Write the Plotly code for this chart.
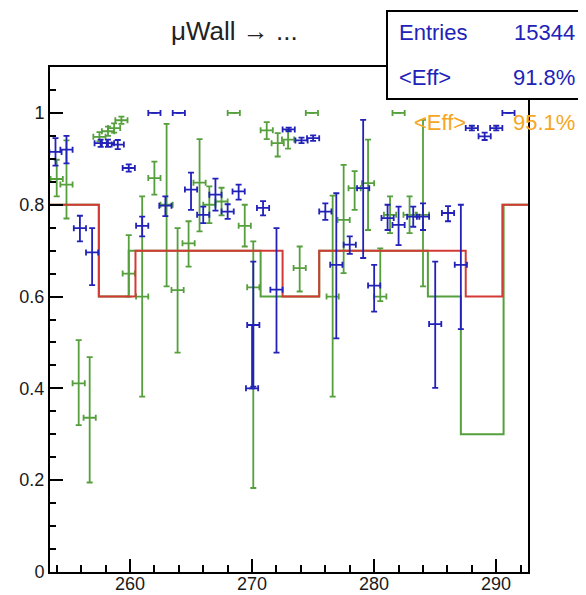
import plotly.graph_objects as go

# blue points: x, eff, err up, err down
blue_x = [253.9, 254.8, 255.9, 256.9, 257.6, 258.2, 259.0, 259.9, 261.0, 262.0,
          262.9, 264.0, 265.0, 266.0, 267.0, 268.0, 268.9, 270.1, 270.0, 270.9,
          272.0, 273.0, 274.05, 275.0, 276.0, 276.9, 278.0, 279.1, 280.0, 281.1,
          282.0, 283.2, 284.0, 285.0, 286.05, 287.1, 288.0, 289.05, 290.0, 291.0]
blue_y = [0.915, 0.92, 0.749, 0.696, 0.934, 0.934, 0.931, 0.88, 0.754, 1.0,
          0.798, 1.0, 0.833, 0.778, 0.822, 0.785, 0.829, 0.538, 0.40, 0.793,
          0.615, 0.964, 0.94, 0.945, 0.785, 0.669, 0.713, 0.836, 0.624, 0.771,
          0.756, 0.774, 0.774, 0.54, 0.782, 0.669, 0.967, 0.949, 0.967, 1.0]
blue_up = [0.03, 0.03, 0.027, 0.053, 0.008, 0.008, 0.01, 0.008, 0.02, 0.0,
           0.02, 0.0, 0.037, 0.018, 0.035, 0.016, 0.015, 0.138, 0.138, 0.015,
           0.134, 0.004, 0.006, 0.006, 0.018, 0.156, 0.018, 0.149, 0.045, 0.029,
           0.04, 0.022, 0.029, 0.136, 0.015, 0.131, 0.005, 0.008, 0.005, 0.0]
blue_dn = [0.03, 0.03, 0.029, 0.071, 0.008, 0.008, 0.01, 0.008, 0.023, 0.0,
           0.023, 0.0, 0.044, 0.018, 0.035, 0.016, 0.018, 0.134, 0.0, 0.016,
           0.137, 0.004, 0.006, 0.006, 0.018, 0.16, 0.02, 0.152, 0.057, 0.026,
           0.044, 0.022, 0.029, 0.139, 0.018, 0.14, 0.005, 0.008, 0.005, 0.0]

# green points
green_x = [254.0, 254.8, 255.8, 256.7, 257.5, 258.2, 258.7, 259.3, 259.9, 261.0,
           262.0, 263.0, 263.9, 264.8, 265.7, 266.5, 267.5, 268.5, 269.4, 270.1,
           271.2, 272.1, 272.95, 273.9, 274.9, 276.6, 277.5, 278.4, 279.5, 280.5,
           281.3, 282.0, 282.9, 284.0]
green_y = [0.856, 0.844, 0.411, 0.336, 0.948, 0.96, 0.967, 0.984, 0.65, 0.60,
           0.858, 0.80, 0.614, 0.716, 0.848, 0.80, 0.807, 1.0, 0.754, 0.62,
           0.962, 0.934, 0.942, 0.662, 1.0, 0.60, 0.767, 0.836, 0.847, 0.60,
           0.778, 1.0, 0.778, 0.778]
green_up = [0.042, 0.096, 0.094, 0.132, 0.01, 0.01, 0.01, 0.008, 0.084, 0.218,
            0.036, 0.176, 0.135, 0.048, 0.095, 0.04, 0.03, 0.0, 0.046, 0.10,
            0.018, 0.022, 0.02, 0.047, 0.0, 0.22, 0.12, 0.037, 0.095, 0.105,
            0.04, 0.0, 0.04, 0.207]
green_dn = [0.038, 0.074, 0.091, 0.141, 0.01, 0.01, 0.01, 0.008, 0.05, 0.218,
            0.036, 0.178, 0.136, 0.051, 0.106, 0.04, 0.03, 0.0, 0.045, 0.437,
            0.019, 0.029, 0.02, 0.051, 0.0, 0.218, 0.116, 0.047, 0.102, 0.01,
            0.04, 0.0, 0.04, 0.156]

# step histograms (bin edges, bin contents)
red_edges = [253.45, 257.45, 260.45, 272.5, 275.5, 287.5, 290.5, 292.6]
red_vals = [0.8, 0.6, 0.7, 0.6, 0.7, 0.6, 0.8]
green_edges = [253.45, 257.45, 259.9, 270.7, 275.5, 284.4, 287.1, 290.6, 292.6]
green_vals = [0.8, 0.6, 0.7, 0.6, 0.7, 0.6, 0.3, 0.8]

x_ticks = [260, 270, 280, 290]

BLUE = "#2222b8"
GREEN = "#55a03c"
RED = "#d43a34"
ORANGE = "#f6a623"
FONT = "Liberation Sans"

# page has an 8px body margin, so the figure is shrunk by that much
OFF = 8
W, H = 586 - OFF, 595 - OFF


def step_xy(edges, vals):
    xs, ys = [], []
    for i, v in enumerate(vals):
        xs += [edges[i], edges[i + 1]]
        ys += [v, v]
    return xs, ys


def points(x, y, up, dn, color):
    return go.Scatter(
        x=x, y=y, mode="markers",
        marker=dict(size=1, color=color),
        error_x=dict(type="constant", value=0.5, color=color, thickness=1.8, width=3),
        error_y=dict(type="data", array=up, arrayminus=dn, color=color,
                     thickness=1.8, width=3),
        showlegend=False, hoverinfo="skip",
    )


fig = go.Figure()

gx, gy = step_xy(green_edges, green_vals)
fig.add_trace(go.Scatter(x=gx, y=gy, mode="lines", line=dict(color=GREEN, width=2),
                         showlegend=False))
fig.add_trace(points(green_x, green_y, green_up, green_dn, GREEN))

rx, ry = step_xy(red_edges, red_vals)
fig.add_trace(go.Scatter(x=rx, y=ry, mode="lines", line=dict(color=RED, width=2),
                         showlegend=False))
fig.add_trace(points(blue_x, blue_y, blue_up, blue_dn, BLUE))

axis_common = dict(
    showline=True, linecolor="black", linewidth=2, mirror=True,
    ticks="inside", ticklen=13, tickwidth=1.5, tickcolor="black",
    showgrid=False, zeroline=False, automargin=False,
    tickfont=dict(family=FONT, size=18, color="#1a1a1a"),
)
fig.update_xaxes(range=[253.45, 292.6], tickvals=x_ticks, showticklabels=False,
                 minor=dict(tick0=0, dtick=2, ticks="inside", ticklen=7,
                            tickcolor="black"),
                 **axis_common)
fig.update_yaxes(range=[0, 1.1],
                 tickvals=[0, 0.2, 0.4, 0.6, 0.8, 1.0],
                 ticktext=["0", "0.2", "0.4", "0.6", "0.8", "1"],
                 minor=dict(tick0=0, dtick=0.05, ticks="inside", ticklen=6,
                            tickcolor="black"),
                 **axis_common)


def px_x(p):
    return (p - 50) / 478


def px_y(p):
    return (572 - p) / 505


fig.update_layout(
    width=W, height=H,
    margin=dict(l=50 - OFF, r=586 - 528, t=67 - OFF, b=595 - 572),
    paper_bgcolor="white", plot_bgcolor="white",
    font=dict(family=FONT),
    shapes=[dict(type="rect", xref="paper", yref="paper",
                 x0=px_x(387), x1=px_x(583), y0=px_y(99), y1=px_y(11),
                 line=dict(color="black", width=2), fillcolor="white", layer="above")],
)

# x tick labels placed as text so they fit above the window edge
for t in x_ticks:
    fig.add_annotation(text=str(t), xref="x", yref="paper", x=t, y=px_y(584),
                       xanchor="center", yanchor="middle", showarrow=False,
                       font=dict(family=FONT, size=18, color="#1a1a1a"))

fig.add_annotation(text="\u03bcWall \u2192 ...", xref="paper", yref="paper",
                   x=px_x(234), y=px_y(31), xanchor="center", yanchor="middle",
                   showarrow=False, font=dict(family=FONT, size=26, color="#222"))

stats = [("Entries", "15344", 33, BLUE), ("<Eff>", "91.8%", 77, BLUE),
         ("<Eff>", "95.1%", 122, ORANGE)]
for label, val, py, col in stats:
    lx = 397 if col == BLUE else 412
    fig.add_annotation(text=label, xref="paper", yref="paper",
                       x=px_x(lx), y=px_y(py), xanchor="left",
                       yanchor="middle", showarrow=False,
                       font=dict(family=FONT, size=22, color=col))
    fig.add_annotation(text=val, xref="paper", yref="paper",
                       x=px_x(577), y=px_y(py), xanchor="right",
                       yanchor="middle", showarrow=False,
                       font=dict(family=FONT, size=22, color=col))

fig.write_html("out.html")
